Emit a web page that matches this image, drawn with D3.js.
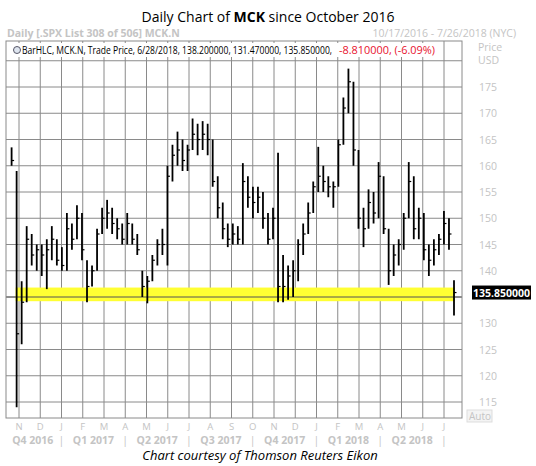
<!DOCTYPE html>
<html>
<head>
<meta charset="utf-8">
<script src="https://cdn.jsdelivr.net/npm/d3@7/dist/d3.min.js"></script>
<style>
  body { margin: 0; background: #fff; }
  text { font-family: "Open Sans", "DejaVu Sans", sans-serif; }
</style>
</head>
<body>
<svg id="chart" width="536" height="466"></svg>
<script>
// weekly bars (week ending Friday), Oct 21 2016 .. Jun 29 2018
const firstWeek = new Date(2016, 9, 21)
const weekLow = [160, 114, 126, 134, 141, 140, 139, 136.5, 142, 141, 140, 140, 144, 146, 142, 134, 137, 140, 147, 148,
    147, 146, 145, 145, 145, 143, 135, 133.8, 138, 141, 143, 141, 157, 160, 159, 159, 163, 162, 163, 162,
    156, 150, 146, 144.5, 145, 145, 145, 152, 150, 151, 148, 145, 146, 134, 134, 134.5, 135, 138, 143, 147,
    151, 155, 155, 154, 152, 156, 164, 170, 160, 148, 144.5, 148, 149, 150, 147, 137.3, 139, 141, 144,
    150, 146, 146, 142, 139, 141, 143, 145, 144, 131.47]
const weekHigh = [163.5, 159, 138, 148.5, 147, 145, 145, 146, 148.5, 146, 144.5, 151, 149, 152.5, 151, 142, 141, 148, 152, 153.5,
    152, 150, 149, 151, 149, 147, 140, 139, 143, 146, 148, 160, 164, 166.5, 165, 164, 169, 168, 168.5, 168,
    165, 158, 153, 149, 149, 148.5, 160.5, 158, 156, 156, 155, 151, 152, 162.5, 143, 141, 142, 146, 149, 153,
    157, 163.6, 160, 158, 157, 165, 173, 178.5, 176, 163, 152, 155.5, 155, 160.7, 158, 148, 145, 146, 151,
    160.7, 158, 152, 151, 145, 146, 147, 151.4, 150, 138.2]
const weekClose = [161, 128, 134, 146, 143, 144, 143, 144, 146, 142, 141, 148, 146, 150, 144, 137, 140, 147, 150, 151,
    149, 148, 146, 149, 146, 144, 137, 138, 142, 145, 145, 158, 162, 163, 161, 163, 166, 165, 166, 165,
    157, 152, 148, 146, 147, 146, 157, 154, 153, 154, 150, 146, 150, 137, 137, 139, 140, 145, 147, 151,
    156, 158, 157, 156, 156, 164, 171, 176, 163, 150, 148, 153, 151, 158, 148, 140, 143, 145, 150,
    157, 148, 150, 144, 142, 144, 146, 149, 147, 135.85]
const lastClose = 135.85
const supportLow = 134.2, supportHigh = 136.8
const priceTicks = d3.range(115, 181, 5)
const monthLabels = ["N", "D", "J", "F", "M", "A", "M", "J", "J", "A", "S", "O", "N", "D", "J", "F", "M", "A", "M", "J", "J"]
const quarterLabels = ["Q4 2016", "Q1 2017", "Q2 2017", "Q3 2017", "Q4 2017", "Q1 2018", "Q2 2018"]
const quarterEnds = [2, 5, 8, 11, 14, 17, 20]

const svg = d3.select("#chart")
const plotLeft = 6, plotRight = 462, plotTop = 41, plotBottom = 418
const grey = "#8a8a8a", pale = "#c4c4c4"

const weeks = weekLow.map((lo, i) => ({
    date: d3.timeWeek.offset(firstWeek, i), low: lo, high: weekHigh[i], close: weekClose[i]
}))

const x = d3.scaleTime()
    .domain([weeks[0].date, weeks[weeks.length - 1].date])
    .range([11.6, 454])
const y = d3.scaleLinear().domain([115, 175]).range([402, 87])
const monthX = d3.scaleLinear().domain([0, monthLabels.length - 1]).range([19, 444])

// title block
svg.append("text").attr("x", 268).attr("y", 22).attr("text-anchor", "middle")
    .style("font-size", "14px")
    .html('Daily Chart of <tspan font-weight="bold">MCK</tspan> since October 2016')
svg.append("text").attr("x", 7).attr("y", 37).attr("fill", pale)
    .style("font-size", "10.5px").style("font-weight", "bold")
    .text("Daily [.SPX List 308 of 506] MCK.N")
svg.append("text").attr("x", 516).attr("y", 37).attr("fill", pale).attr("text-anchor", "end")
    .style("font-size", "10.5px")
    .text("10/17/2016 - 7/26/2018 (NYC)")

// grid
const grid = svg.append("g")
grid.selectAll(".h").data(priceTicks).join("line")
    .attr("x1", plotLeft).attr("x2", plotRight)
    .attr("y1", d => y(d)).attr("y2", d => y(d))
    .attr("stroke", grey)
grid.selectAll(".v").data(monthLabels).join("line")
    .attr("x1", (d, i) => monthX(i)).attr("x2", (d, i) => monthX(i))
    .attr("y1", plotTop).attr("y2", plotBottom)
    .attr("stroke", grey)

// support band
svg.append("rect")
    .attr("x", x(weeks[0].date) + 4).attr("width", x(weeks[weeks.length - 1].date) - x(weeks[0].date) - 3)
    .attr("y", y(supportHigh)).attr("height", y(supportLow) - y(supportHigh))
    .attr("fill", "#ffff33")
svg.append("line").attr("x1", plotLeft).attr("x2", plotRight)
    .attr("y1", y(135)).attr("y2", y(135)).attr("stroke", "#555")

// bars
const bars = svg.append("g")
bars.selectAll("line.hl").data(weeks).join("line")
    .attr("x1", d => x(d.date)).attr("x2", d => x(d.date))
    .attr("y1", d => y(d.low)).attr("y2", d => y(d.high))
    .attr("stroke", "#000").attr("stroke-width", 1.8)
bars.selectAll("line.c").data(weeks).join("line")
    .attr("x1", d => x(d.date)).attr("x2", d => x(d.date) + 2.5)
    .attr("y1", d => y(d.close)).attr("y2", d => y(d.close))
    .attr("stroke", "#000").attr("stroke-width", 1.2)

// frame
svg.append("rect").attr("x", plotLeft).attr("y", plotTop)
    .attr("width", plotRight - plotLeft).attr("height", plotBottom - plotTop)
    .attr("fill", "none").attr("stroke", grey)

// legend row
svg.append("rect").attr("x", 12).attr("y", 43).attr("width", 426).attr("height", 14).attr("fill", "#fff")
svg.append("text").attr("x", 22).attr("y", 54).style("font-size", "10.5px")
    .attr("textLength", 310).attr("lengthAdjust", "spacingAndGlyphs")
    .text("BarHLC, MCK.N, Trade Price, 6/28/2018, 138.200000, 131.470000, 135.850000,")
svg.append("text").attr("x", 339).attr("y", 54).style("font-size", "10.5px").attr("fill", "#e8112d")
    .attr("textLength", 96).attr("lengthAdjust", "spacingAndGlyphs")
    .text("-8.810000, (-6.09%)")
svg.append("circle").attr("cx", 17).attr("cy", 50).attr("r", 3.5)
    .attr("fill", "#dfe6f0").attr("stroke", "#556")

// right axis (135 sits under the last-price tag)
svg.append("g").selectAll("text").data(priceTicks.filter(d => d < 180 && d !== 135)).join("text")
    .attr("x", 479).attr("y", d => y(d) + 4)
    .attr("fill", pale).style("font-size", "10.5px")
    .text(d => d)
svg.append("text").attr("x", 478).attr("y", 51).attr("fill", pale).style("font-size", "10.5px").text("Price")
svg.append("text").attr("x", 478).attr("y", 64).attr("fill", pale).style("font-size", "10.5px").text("USD")
svg.append("rect").attr("x", 467).attr("y", 410).attr("width", 25).attr("height", 12)
    .attr("fill", "#f4f4f4").attr("stroke", "#ddd")
svg.append("text").attr("x", 469).attr("y", 420).attr("fill", pale).style("font-size", "10px").text("Auto")

// last price tag
const yl = y(lastClose)
svg.append("rect").attr("x", 472).attr("y", yl - 7).attr("width", 59).attr("height", 14).attr("fill", "#000")
svg.append("text").attr("x", 501.5).attr("y", yl + 4).attr("text-anchor", "middle")
    .attr("fill", "#fff").style("font-size", "10.5px").style("font-weight", "bold")
    .text(lastClose.toFixed(6))

// time axis
svg.append("g").selectAll("text").data(monthLabels).join("text")
    .attr("x", (d, i) => monthX(i)).attr("y", 430).attr("text-anchor", "middle")
    .attr("fill", pale).style("font-size", "9.5px")
    .text(d => d)
svg.append("g").selectAll("text").data(quarterLabels).join("text")
    .attr("x", (d, i) => (monthX(quarterEnds[i]) + (i ? monthX(quarterEnds[i - 1]) : 0)) / 2 + (i ? 0 : 2))
    .attr("y", 444).attr("text-anchor", "middle")
    .attr("fill", pale).style("font-size", "10.5px").style("font-weight", "bold")
    .text(d => d)
svg.append("g").selectAll("text").data(quarterEnds).join("text")
    .attr("x", d => monthX(d)).attr("y", 444).attr("text-anchor", "middle")
    .attr("fill", pale).style("font-size", "10.5px")
    .text("|")

svg.append("text").attr("x", 260).attr("y", 460).attr("text-anchor", "middle")
    .style("font-size", "13px").style("font-style", "italic")
    .text("Chart courtesy of Thomson Reuters Eikon")
</script>
</body>
</html>
